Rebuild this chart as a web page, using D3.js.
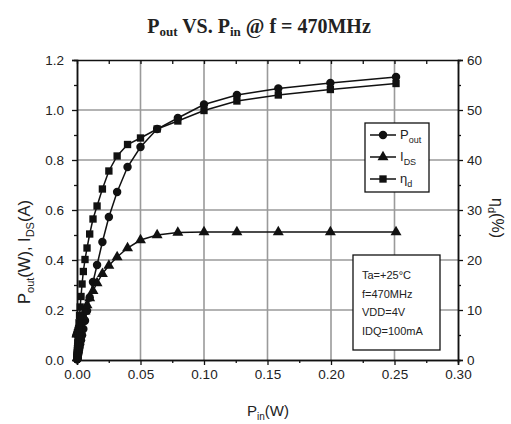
<!DOCTYPE html>
<html><head><meta charset="utf-8">
<script src="https://cdn.jsdelivr.net/npm/d3@7"></script>
<style>body{margin:0;background:#fff}text{font-family:"Liberation Sans",Arial,sans-serif;fill:#222}</style>
</head><body><svg id="c" width="511" height="424"></svg>
<script>
// Input power (W)
const pin = [0.0001,0.000126,0.000158,0.0002,0.000251,0.000316,0.000398,0.0005,0.00063,0.00079,
  0.001,0.00126,0.00158,0.002,0.00251,0.00316,0.00398,0.005,0.0063,0.0079,
  0.01,0.0126,0.0158,0.02,0.0251,0.0316,0.0398,0.05,0.0631,0.0794,
  0.1,0.1259,0.1585,0.1995,0.2512];
// Output power (W)
const pout = [0.0025,0.0032,0.004,0.005,0.0063,0.0079,0.01,0.0126,0.0158,0.0199,
  0.025,0.0315,0.0396,0.05,0.0626,0.079,0.099,0.124,0.157,0.197,
  0.25,0.312,0.38,0.472,0.572,0.672,0.772,0.852,0.924,0.968,
  1.022,1.06,1.086,1.108,1.132];
// Drain current (A)
const ids = [0.103,0.104,0.105,0.106,0.107,0.108,0.11,0.112,0.115,0.118,
  0.122,0.127,0.133,0.14,0.147,0.155,0.163,0.175,0.195,0.22,
  0.248,0.277,0.308,0.345,0.378,0.412,0.448,0.48,0.5,0.51,
  0.512,0.512,0.512,0.512,0.512];
// Drain efficiency (%)
const eta = [0.6,0.77,0.95,1.18,1.47,1.83,2.27,2.81,3.43,4.22,
  5.12,6.2,7.44,8.93,10.6,12.7,15.2,17.7,20.1,22.4,
  25.2,28.2,30.8,34.2,37.8,40.8,43.1,44.4,46.2,47.8,
  49.9,51.8,53.0,54.1,55.3];
const xTicks = [0,0.05,0.10,0.15,0.20,0.25,0.30];
const xMinor = [0.025,0.075,0.125,0.175,0.225,0.275];
const yLeftTicks = [0,0.2,0.4,0.6,0.8,1.0,1.2];
const yLeftMinor = [0.1,0.3,0.5,0.7,0.9,1.1];
const yRightTicks = [0,10,20,30,40,50,60];
const yRightMinor = [5,15,25,35,45,55];
const notes = ["Ta=+25°C","f=470MHz","VDD=4V","IDQ=100mA"];

const L=77,R=458,T=60,B=360;
const svg=d3.select("#c");
const x=d3.scaleLinear().domain([0,0.30]).range([L,R]);
const yL=d3.scaleLinear().domain([0,1.2]).range([B,T]);
const yR=d3.scaleLinear().domain([0,60]).range([B,T]);

// grid
const g=svg.append("g");
g.selectAll("line.gx").data(xTicks.slice(1,-1)).join("line")
  .attr("x1",d=>x(d)).attr("x2",d=>x(d)).attr("y1",T).attr("y2",B)
  .attr("stroke","#9a9a9a").attr("stroke-width",1.6);
g.selectAll("line.gy").data(yLeftTicks.slice(1,-1)).join("line")
  .attr("y1",d=>yL(d)).attr("y2",d=>yL(d)).attr("x1",L).attr("x2",R)
  .attr("stroke","#9a9a9a").attr("stroke-width",1.6);

const series=[
  {name:"pout",vals:pout,y:yL,shape:"circle"},
  {name:"ids",vals:ids,y:yL,shape:"triangle"},
  {name:"eta",vals:eta,y:yR,shape:"square"}
];
const sym={circle:d3.symbol().type(d3.symbolCircle).size(56),
  triangle:d3.symbol().type(d3.symbolTriangle).size(52),
  square:d3.symbol().type(d3.symbolSquare).size(54)};

series.forEach(s=>{
  const pts=pin.map((p,i)=>[x(p),s.y(s.vals[i])]);
  svg.append("path").attr("d",d3.line()(pts)).attr("fill","none")
    .attr("stroke","#111").attr("stroke-width",1.5);
  svg.append("g").selectAll("path").data(pts).join("path")
    .attr("transform",d=>`translate(${d[0]},${d[1]})`)
    .attr("d",sym[s.shape]).attr("fill","#111");
});

// axes
function styleAxis(sel){sel.select(".domain").attr("stroke","#111").attr("stroke-width",1.5);
  sel.selectAll(".tick line").attr("stroke","#111").attr("stroke-width",1.3);
  sel.selectAll("text").attr("font-size",13.5).attr("fill","#222").attr("font-family","Liberation Sans, Arial, sans-serif");}
svg.append("g").attr("transform",`translate(0,${B})`)
  .call(d3.axisBottom(x).tickValues(xTicks).tickSize(5).tickPadding(4).tickFormat(d3.format(".2f"))).call(styleAxis);
svg.append("g").attr("transform",`translate(0,${B})`)
  .call(d3.axisBottom(x).tickValues(xMinor).tickSize(3).tickFormat("")).call(styleAxis);
svg.append("g").attr("transform",`translate(0,${T})`)
  .call(d3.axisTop(x).tickValues(xTicks.concat(xMinor)).tickSizeInner(-4).tickSizeOuter(0).tickFormat("")).call(styleAxis);
svg.append("g").attr("transform",`translate(${L},0)`)
  .call(d3.axisLeft(yL).tickValues(yLeftTicks).tickSize(5).tickPadding(8).tickFormat(d3.format(".1f"))).call(styleAxis);
svg.append("g").attr("transform",`translate(${L},0)`)
  .call(d3.axisLeft(yL).tickValues(yLeftMinor).tickSize(3).tickFormat("")).call(styleAxis);
svg.append("g").attr("transform",`translate(${R},0)`)
  .call(d3.axisRight(yR).tickValues(yRightTicks).tickSize(5).tickPadding(4)).call(styleAxis);
svg.append("g").attr("transform",`translate(${R},0)`)
  .call(d3.axisRight(yR).tickValues(yRightMinor).tickSize(3).tickFormat("")).call(styleAxis);

// legend
const lg=svg.append("g");
lg.append("rect").attr("x",365).attr("y",123).attr("width",64).attr("height",69)
  .attr("fill","#fff").attr("stroke","#111").attr("stroke-width",1.3);
const legItems=[{shape:"circle",main:"P",sub:"out"},{shape:"triangle",main:"I",sub:"DS"},{shape:"square",main:"η",sub:"d"}];
legItems.forEach((d,i)=>{
  const yy=135+i*22;
  lg.append("line").attr("x1",370).attr("x2",396).attr("y1",yy).attr("y2",yy).attr("stroke","#111").attr("stroke-width",1.5);
  lg.append("path").attr("transform",`translate(383,${yy})`).attr("d",sym[d.shape]).attr("fill","#111");
  const t=lg.append("text").attr("x",400).attr("y",yy+4).attr("font-size",13);
  t.append("tspan").text(d.main);
  t.append("tspan").attr("dy",4).attr("font-size",9).text(d.sub);
});

// notes box
const nb=svg.append("g");
nb.append("rect").attr("x",353).attr("y",255).attr("width",87).attr("height",95)
  .attr("fill","#fff").attr("stroke","#111").attr("stroke-width",1.3);
nb.selectAll("text").data(notes).join("text").attr("x",362).attr("y",(d,i)=>279+i*18.5)
  .attr("font-size",11).text(d=>d);

// title
const tt=svg.append("text").attr("x",259).attr("y",33).attr("text-anchor","middle")
  .style("font-family","Liberation Serif, Times New Roman, serif").attr("font-weight","bold").attr("font-size",20);
tt.append("tspan").text("P");
tt.append("tspan").attr("font-size",13).attr("dy",3).text("out");
tt.append("tspan").attr("dy",-3).text(" VS. P");
tt.append("tspan").attr("font-size",13).attr("dy",3).text("in");
tt.append("tspan").attr("dy",-3).text(" @ f = 470MHz");

// x label
const xl=svg.append("text").attr("x",268).attr("y",416).attr("text-anchor","middle").attr("font-size",15);
xl.append("tspan").text("P");
xl.append("tspan").attr("font-size",10).attr("dy",4).text("in");
xl.append("tspan").attr("dy",-4).text("(W)");

// left y label
const yl=svg.append("text").attr("transform","translate(30,252) rotate(-90)").attr("text-anchor","middle").attr("font-size",16.5);
yl.append("tspan").text("P");
yl.append("tspan").attr("font-size",11).attr("dy",4).text("out");
yl.append("tspan").attr("dy",-4).text("(W), I");
yl.append("tspan").attr("font-size",11).attr("dy",4).text("DS");
yl.append("tspan").attr("dy",-4).text("(A)");

// right y label
const yr=svg.append("text").attr("transform","translate(492,218) rotate(90)").attr("text-anchor","middle").attr("font-size",16);
yr.append("tspan").text("η");
yr.append("tspan").attr("font-size",11).attr("dy",4).text("d");
yr.append("tspan").attr("dy",-4).text("(%)");
</script></body></html>
